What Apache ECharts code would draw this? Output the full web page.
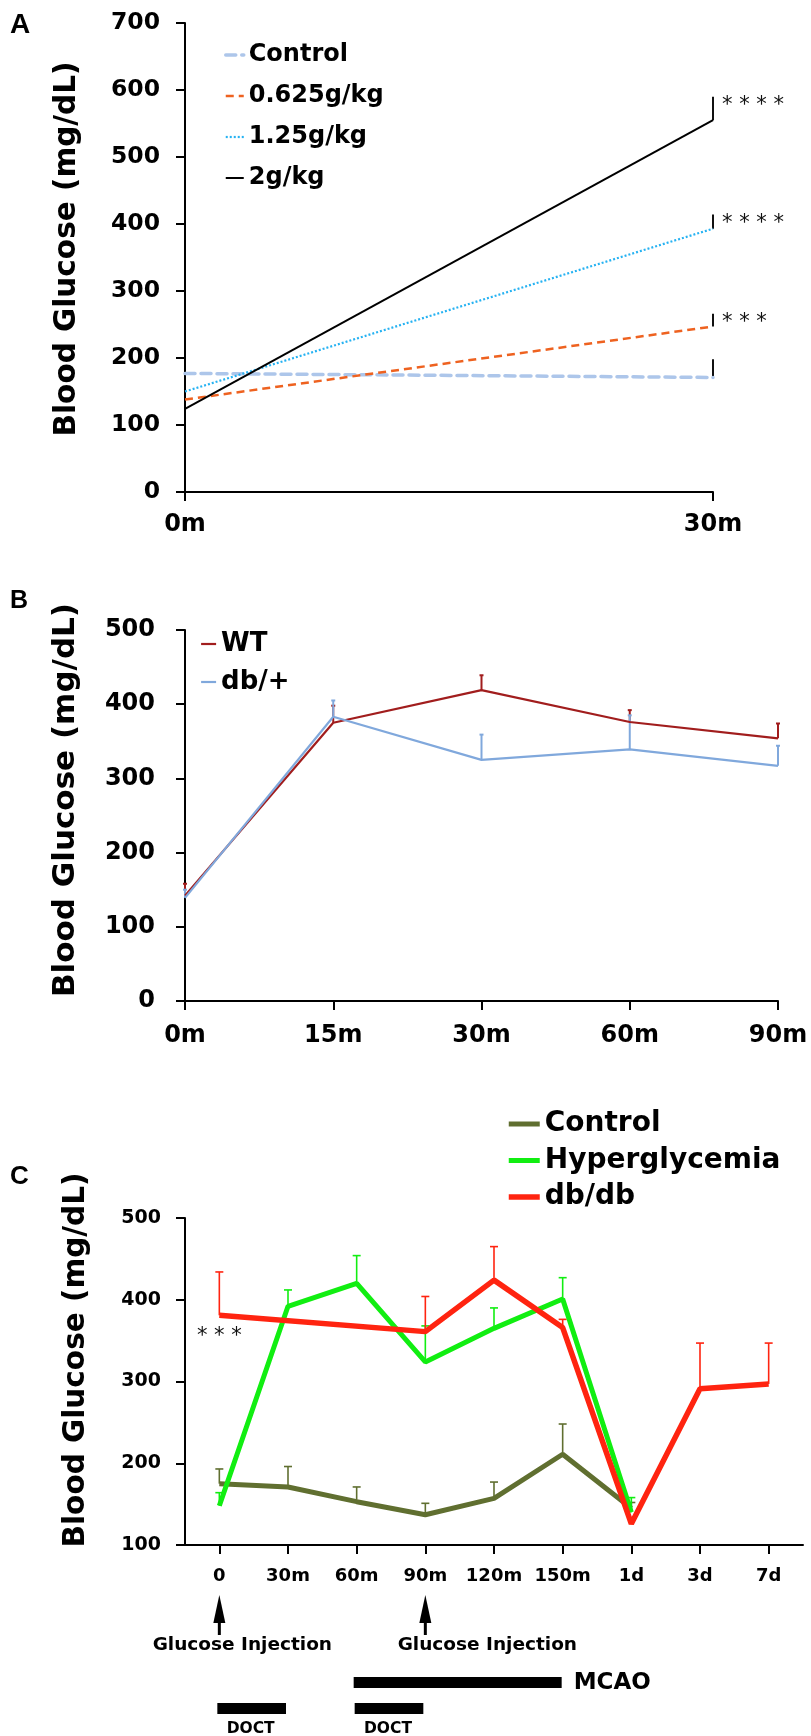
<!DOCTYPE html>
<html><head><meta charset="utf-8">
<script src="https://cdn.jsdelivr.net/npm/echarts@6.0.0/dist/echarts.min.js"></script>
<style>html,body{margin:0;padding:0;background:#fff}#c{width:811px;height:1736px}</style>
</head><body><div id="c"></div><script>
// ---------- Panel A ----------
const aCats = ['0m', '30m'];
const aControl = [177, 171];
const a0625 = [138, 247];
const a125 = [150, 393];
const a2 = [124, 555];
const aControlTop = [null, 198];
const a0625Top = [null, 266];
const a125Top = [null, 414];
const a2Top = [null, 590];
const aControlStars = ['', ''];
const a0625Stars = ['', '* * *'];
const a125Stars = ['', '* * * *'];
const a2Stars = ['', '* * * *'];
const aTicks = [0, 700, 100];

// ---------- Panel B ----------
const bCats = ['0m', '15m', '30m', '60m', '90m'];
const bWT = [142, 375, 419, 376, 354];
const bDb = [139, 383, 325, 339, 317];
const bWTTop = [158, 398, 439, 392, 374];
const bDbTop = [150, 405, 359, 385, 344];
const bTicks = [0, 500, 100];

// ---------- Panel C ----------
const cCats = ['0', '30m', '60m', '90m', '120m', '150m', '1d', '3d', '7d'];
const cControl = [175, 171, 153, 137, 157, 211, 145, null, null];
const cHyper = [148, 392, 420, 324, 365, 401, 140, null, null];
const cDbdb = [381, null, null, 361, 424, 366, 126, 291, 297];
const cControlTop = [193, 196, 171, 151, 177, 248, 152, null, null];
const cHyperTop = [164, 412, 454, 368, 390, 427, 158, null, null];
const cDbdbTop = [434, null, null, 404, 465, 376, null, 347, 347];
const cDbdbStars = ['* * *', '', '', '', '', '', '', '', ''];
const cTicks = [100, 500, 100];
const cInjectAt = ['0', '90m'];
const cInjectLabel = 'Glucose Injection';
const cMcaoSpan = ['60m', '150m'];
const cMcaoLabel = 'MCAO';
const cDoctSpans = [['0', '30m'], ['60m', '90m']];
const cDoctLabel = 'DOCT';

const yName = 'Blood Glucose (mg/dL)';
const FONT = 'DejaVu Sans';
const AXC = '#000';

function errSeries(gi, vals, tops, color, lw, cap, stars, starPos, starSize) {
  const data = [];
  vals.forEach((v, i) => { if (v != null && tops[i] != null) data.push([i, v, tops[i]]); });
  return {
    type: 'custom', xAxisIndex: gi, yAxisIndex: gi, silent: true, clip: false, z: 3,
    encode: { x: 0, y: [1, 2] },
    data: data,
    renderItem: function (params, api) {
      const i = api.value(0), m = api.value(1), t = api.value(2);
      const p0 = api.coord([i, m]), p1 = api.coord([i, t]);
      const ch = [{ type: 'line', shape: { x1: p0[0], y1: p0[1], x2: p1[0], y2: p1[1] }, style: { stroke: color, lineWidth: lw } }];
      if (cap > 0) ch.push({ type: 'line', shape: { x1: p1[0] - cap, y1: p1[1], x2: p1[0] + cap, y2: p1[1] }, style: { stroke: color, lineWidth: lw } });
      const s = stars ? stars[i] : '';
      if (s) {
        const pos = starPos(p0, p1);
        ch.push({ type: 'text', x: pos[0], y: pos[1], style: { text: s, fontFamily: FONT, fontSize: starSize, fill: '#111', align: pos[2], verticalAlign: 'middle' } });
      }
      return { type: 'group', children: ch };
    }
  };
}
const starRight = (p0, p1) => [p1[0] + 9, p1[1] + 9, 'left'];
const starBelow = (p0, p1) => [p0[0], p0[1] + 21, 'center'];

function lineSeries(name, gi, data, color, width, type, cap) {
  return {
    name: name, type: 'line', xAxisIndex: gi, yAxisIndex: gi, data: data,
    symbol: 'none', showSymbol: false, connectNulls: true, z: 4,
    lineStyle: { color: color, width: width, type: type || 'solid', cap: cap || 'butt' },
    itemStyle: { color: color }
  };
}

function xAxisCfg(gi, cats, gap, fs, margin) {
  return {
    type: 'category', gridIndex: gi, data: cats, boundaryGap: gap,
    axisLine: { lineStyle: { color: AXC, width: 2 } },
    axisTick: { show: true, alignWithLabel: true, length: 9, lineStyle: { color: AXC, width: 2 } },
    axisLabel: { color: '#000', fontFamily: FONT, fontWeight: 'bold', fontSize: fs, margin: margin, interval: 0 },
    splitLine: { show: false }
  };
}
function yAxisCfg(gi, ticks, fs, margin) {
  return {
    type: 'value', gridIndex: gi, min: ticks[0], max: ticks[1], interval: ticks[2],
    axisLine: { show: true, lineStyle: { color: AXC, width: 2 } },
    axisTick: { show: true, length: 9, lineStyle: { color: AXC, width: 2 } },
    axisLabel: { color: '#000', fontFamily: FONT, fontWeight: 'bold', fontSize: fs, margin: margin },
    splitLine: { show: false }
  };
}

const annotSeries = {
  type: 'custom', xAxisIndex: 2, yAxisIndex: 2, silent: true, clip: false, z: 5,
  data: [[0, cTicks[0]]],
  renderItem: function (params, api) {
    const px = cat => api.coord([cCats.indexOf(cat), cTicks[0]]);
    const base = px(cCats[0])[1];
    const ch = [];
    const txt = (t, x, y, fs, align, va) => ({ type: 'text', x: x, y: y, style: { text: t, fontFamily: FONT, fontWeight: 'bold', fontSize: fs, fill: '#000', align: align, verticalAlign: va } });
    const shifts = [23, 62];
    cInjectAt.forEach((cat, k) => {
      const x = px(cat)[0];
      ch.push({ type: 'polygon', shape: { points: [[x, base + 50], [x - 6, base + 78], [x + 6, base + 78]] }, style: { fill: '#000' } });
      ch.push({ type: 'rect', shape: { x: x - 1.5, y: base + 74, width: 3, height: 16 }, style: { fill: '#000' } });
      ch.push(txt(cInjectLabel, x + shifts[k], base + 100, 18.5, 'center', 'middle'));
    });
    const m0 = px(cMcaoSpan[0])[0], m1 = px(cMcaoSpan[1])[0];
    ch.push({ type: 'rect', shape: { x: m0 - 3, y: base + 132, width: m1 - m0 + 2, height: 11 }, style: { fill: '#000' } });
    ch.push(txt(cMcaoLabel, m1 + 11, base + 138, 23, 'left', 'middle'));
    cDoctSpans.forEach(sp => {
      const d0 = px(sp[0])[0], d1 = px(sp[1])[0];
      ch.push({ type: 'rect', shape: { x: d0 - 2, y: base + 158, width: d1 - d0, height: 11 }, style: { fill: '#000' } });
      ch.push(txt(cDoctLabel, (d0 + d1) / 2 - 3, base + 176, 15.5, 'center', 'top'));
    });
    return { type: 'group', children: ch };
  }
};

const legendText = fs => ({ color: '#000', fontFamily: FONT, fontWeight: 'bold', fontSize: fs, lineHeight: fs + 2 });
const legItem = (name, w) => ({ name: name, lineStyle: { width: w } });
const yTitle = (x, y, fs) => ({ type: 'text', x: x, y: y, rotation: Math.PI / 2,
  style: { text: yName, fontFamily: FONT, fontWeight: 'bold', fontSize: fs, fill: '#000', align: 'center', verticalAlign: 'middle' } });

const option = {
  animation: false,
  backgroundColor: '#fff',
  grid: [
    { left: 185, top: 23, width: 528, height: 469 },
    { left: 185, top: 630, width: 593, height: 371 },
    { left: 185, top: 1218, width: 618, height: 327 }
  ],
  xAxis: [
    xAxisCfg(0, aCats, false, 24, 21),
    xAxisCfg(1, bCats, false, 24, 23),
    xAxisCfg(2, cCats, true, 18, 22)
  ],
  yAxis: [
    yAxisCfg(0, aTicks, 23.5, 25),
    yAxisCfg(1, bTicks, 24, 30),
    yAxisCfg(2, cTicks, 19, 24)
  ],
  legend: [
    { orient: 'vertical', left: 224, top: 42, padding: 0, itemWidth: 18, itemHeight: 6, itemGap: 15,
      itemStyle: { opacity: 0 },
      data: [legItem('Control (A)', 3.5), legItem('0.625g/kg', 2.5), legItem('1.25g/kg', 2.2), legItem('2g/kg', 2)],
      textStyle: legendText(24), formatter: n => n.replace(' (A)', ''), selectedMode: false },
    { orient: 'vertical', left: 200, top: 630, padding: 0, itemWidth: 15, itemHeight: 6, itemGap: 10,
      itemStyle: { opacity: 0 },
      data: [legItem('WT', 2.2), legItem('db/+', 2.2)], textStyle: legendText(26), selectedMode: false },
    { orient: 'vertical', left: 506, top: 1109, padding: 0, itemWidth: 31, itemHeight: 6, itemGap: 6.5,
      itemStyle: { opacity: 0 },
      data: [legItem('Control', 5), legItem('Hyperglycemia', 5), legItem('db/db', 5.5)], textStyle: legendText(28), selectedMode: false }
  ],
  graphic: [
    { type: 'text', x: 10, y: 25, style: { text: 'A', fontFamily: 'Liberation Sans Narrow, Liberation Sans', fontWeight: 'bold', fontSize: 28, fill: '#000', verticalAlign: 'middle' } },
    { type: 'text', x: 10, y: 601, style: { text: 'B', fontFamily: 'Liberation Sans', fontWeight: 'bold', fontSize: 25, fill: '#000', verticalAlign: 'middle' } },
    { type: 'text', x: 10, y: 1177, style: { text: 'C', fontFamily: 'Liberation Sans', fontWeight: 'bold', fontSize: 26, fill: '#000', verticalAlign: 'middle' } },
    yTitle(67, 249, 29.5),
    yTitle(66, 800, 31),
    yTitle(76, 1360, 29.5)
  ],
  series: [
    lineSeries('Control (A)', 0, aControl, '#adc6ea', 3.5, [10, 6], 'round'),
    lineSeries('0.625g/kg', 0, a0625, '#ee6220', 2.5, [8, 5]),
    lineSeries('1.25g/kg', 0, a125, '#26b2f2', 2.2, [2, 2]),
    lineSeries('2g/kg', 0, a2, '#000000', 2),
    errSeries(0, aControl, aControlTop, '#111', 2, 0, aControlStars, starRight, 21),
    errSeries(0, a0625, a0625Top, '#111', 2, 0, a0625Stars, starRight, 21),
    errSeries(0, a125, a125Top, '#111', 2, 0, a125Stars, starRight, 21),
    errSeries(0, a2, a2Top, '#111', 2, 0, a2Stars, starRight, 21),

    lineSeries('WT', 1, bWT, '#a11d1d', 2.2),
    lineSeries('db/+', 1, bDb, '#80a8dc', 2.2),
    errSeries(1, bWT, bWTTop, '#a11d1d', 2, 2),
    errSeries(1, bDb, bDbTop, '#80a8dc', 2, 2),

    lineSeries('Control', 2, cControl, '#606f30', 5),
    lineSeries('Hyperglycemia', 2, cHyper, '#11ee11', 5),
    lineSeries('db/db', 2, cDbdb, '#ff2410', 5.5),
    errSeries(2, cControl, cControlTop, '#606f30', 1.6, 4),
    errSeries(2, cHyper, cHyperTop, '#11ee11', 1.6, 4),
    errSeries(2, cDbdb, cDbdbTop, '#ff2410', 1.6, 4, cDbdbStars, starBelow, 21),
    annotSeries
  ]
};
const chart = echarts.init(document.getElementById('c'), null, { renderer: 'canvas' });
chart.setOption(option);
</script></body></html>
